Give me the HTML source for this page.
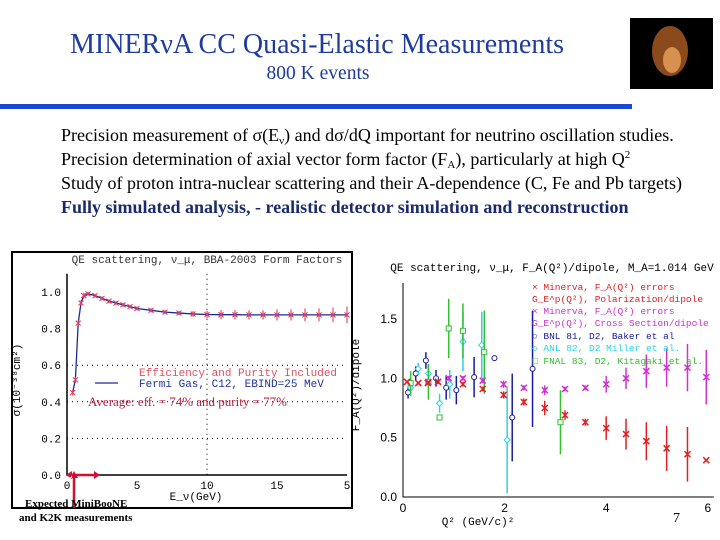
<!DOCTYPE html>
<html><head><meta charset="utf-8"><style>
html,body{margin:0;padding:0;background:#fff;}
svg{display:block;}
.serif{font-family:"Liberation Serif",serif;}
.mono{font-family:"Liberation Mono",monospace;}
</style></head><body>
<svg id="s" width="720" height="540" viewBox="0 0 720 540" xmlns="http://www.w3.org/2000/svg">
<text class="serif" x="317" y="53" font-size="28" fill="#1f3c9c" text-anchor="middle">MINERνA CC Quasi-Elastic Measurements</text>
<text class="serif" x="318" y="79" font-size="19.5" fill="#1f3c9c" text-anchor="middle">800 K events</text>
<g>
<rect x="630" y="18" width="83" height="71" fill="#000"/>
<ellipse cx="670" cy="51" rx="18" ry="25" fill="#8a4a1c"/>
<ellipse cx="672" cy="60" rx="9" ry="13" fill="#d89050"/>
</g>
<rect x="0" y="104" width="632" height="5" fill="#1a47cf"/>
<g class="serif" font-size="18" fill="#000">
<text x="61" y="141">Precision measurement of σ(E<tspan font-size="11" dy="3">ν</tspan><tspan dy="-3">) and dσ/dQ important for neutrino oscillation studies.</tspan></text>
<text x="61" y="165">Precision determination of axial vector form factor (F<tspan font-size="11" dy="3">A</tspan><tspan dy="-3">), particularly at high Q</tspan><tspan font-size="11" dy="-7">2</tspan></text>
<text x="61" y="189">Study of proton intra-nuclear scattering and their A-dependence (C, Fe and Pb targets)</text>
<text x="61" y="213" font-weight="bold" fill="#1a2a6c">Fully simulated analysis, - realistic detector simulation and reconstruction</text>
</g>
<g id="left">
<rect x="12" y="252" width="340" height="256" fill="#fff" stroke="#000" stroke-width="2"/>
<text class="mono" x="207" y="263" font-size="11" text-anchor="middle" fill="#333">QE scattering, ν_μ, BBA-2003 Form Factors</text>
<text class="mono" x="20" y="380" font-size="11" transform="rotate(-90 20 380)" text-anchor="middle">σ(10⁻³⁸cm²)</text>
<text class="mono" x="196" y="500" font-size="11" text-anchor="middle">E_ν(GeV)</text>
</g>
<g id="right">
<text class="mono" x="552" y="271" font-size="11" text-anchor="middle">QE scattering, ν_μ, F_A(Q²)/dipole, M_A=1.014 GeV</text>
<text class="mono" x="359" y="385" font-size="11" transform="rotate(-90 359 385)" text-anchor="middle">F_A(Q²)/dipole</text>
<text class="mono" x="478" y="525" font-size="11" text-anchor="middle">Q² (GeV/c)²</text>
</g>
<text class="serif" x="673" y="522" font-size="14">7</text>
<g>
<text class="serif" x="25" y="507" font-size="11" font-weight="bold">Expected MiniBooNE</text>
<text class="serif" x="19" y="521" font-size="11" font-weight="bold">and K2K measurements</text>
</g>
</svg>
<script>
var NS="http://www.w3.org/2000/svg";
var leftXTicks=[0,5,10,15,20];
var leftXTickLabels=["0","5","10","15","5"];
var leftYTicks=[0,0.2,0.4,0.6,0.8,1.0];
var leftYTickLabels=["0.0","0.2","0.4","0.6","0.8","1.0"];
var energy=[0.4,0.6,0.8,1.0,1.2,1.5,2,2.5,3,3.5,4,4.5,5,6,7,8,9,10,11,12,13,14,15,16,17,18,19,20];
var sigma=[0.45,0.52,0.83,0.94,0.98,0.99,0.98,0.965,0.95,0.94,0.93,0.92,0.91,0.90,0.89,0.885,0.88,0.877,0.876,0.876,0.875,0.875,0.875,0.875,0.875,0.875,0.875,0.875];
var sigmaErr=[0.01,0.01,0.01,0.01,0.01,0.005,0.005,0.005,0.005,0.005,0.005,0.005,0.005,0.005,0.005,0.005,0.01,0.015,0.02,0.02,0.02,0.02,0.025,0.025,0.03,0.03,0.035,0.04];
var rightXTicks=[0,2,4,6];
var rightYTicks=[0,0.5,1.0,1.5];
var rightYTickLabels=["0.0","0.5","1.0","1.5"];
var redQ=[0.08,0.3,0.49,0.69,1.18,1.57,1.98,2.38,2.79,3.19,3.59,4.0,4.39,4.79,5.19,5.6,5.97];
var redV=[0.97,0.96,0.96,0.97,0.95,0.91,0.86,0.80,0.75,0.69,0.63,0.58,0.53,0.47,0.41,0.36,0.31];
var redE=[0.01,0.01,0.01,0.02,0.02,0.02,0.03,0.03,0.06,0.04,0.03,0.1,0.13,0.16,0.19,0.23,0.01];
var magQ=[0.08,0.3,0.5,0.69,0.9,1.18,1.57,1.98,2.38,2.79,3.19,3.59,4.0,4.39,4.79,5.19,5.6,5.97];
var magV=[0.97,0.96,0.97,0.97,1.0,1.0,0.98,0.95,0.92,0.90,0.91,0.92,0.95,1.0,1.06,1.09,1.09,1.01];
var magE=[0.01,0.01,0.01,0.01,0.02,0.02,0.02,0.03,0.02,0.04,0.02,0.02,0.07,0.09,0.14,0.16,0.2,0.23];
var bnlQ=[0.1,0.25,0.45,0.65,0.85,1.05,1.4,1.8,2.15,2.55];
var bnlV=[0.88,1.04,1.15,1.0,0.92,0.9,1.01,1.17,0.67,1.08];
var bnlE=[0.05,0.06,0.07,0.07,0.1,0.12,0.17,0.0,0.37,0.49];
var anlQ=[0.15,0.3,0.5,0.72,0.92,1.18,1.55,2.05];
var anlV=[0.92,1.08,1.04,0.79,0.95,1.31,1.28,0.48];
var anlE=[0.07,0.05,0.08,0.08,0.12,0.25,0.28,0.45];
var fnalQ=[0.15,0.5,0.72,0.9,1.18,1.6,3.1];
var fnalV=[0.96,0.97,0.67,1.42,1.4,1.22,0.63];
var fnalE=[0.1,0.15,0.0,0.25,0.23,0.35,0.27];

var L=document.getElementById('left'), R=document.getElementById('right');
function mk(par,tag,at){var e=document.createElementNS(NS,tag);for(var k in at)e.setAttribute(k,at[k]);par.appendChild(e);return e;}
function lx(v){return 67+v*14;} function ly(v){return 475-v*183;}
var ax=mk(L,'path',{d:'M'+lx(0)+' '+ly(1.1)+'V'+ly(0)+'H'+lx(20),stroke:'#000','stroke-width':1.5,fill:'none'});


for(var i=0;i<leftYTicks.length;i++){var v=leftYTicks[i];
 var t=mk(L,'text',{x:lx(0)-6,y:ly(v)+4,'font-size':11,'text-anchor':'end','font-family':'Liberation Mono,monospace'});t.textContent=leftYTickLabels[i];
 
 
 if(v>0&&v<0.7){var g=mk(L,'line',{x1:lx(0),x2:lx(20),y1:ly(v),y2:ly(v),stroke:'#000','stroke-dasharray':'1 4'});
 
 }
}
for(var i=0;i<leftXTicks.length;i++){var v=leftXTicks[i];
 var t=mk(L,'text',{x:lx(v),y:ly(0)+14,'font-size':11,'text-anchor':'middle','font-family':'Liberation Mono,monospace'});t.textContent=leftXTickLabels[i];
 
 }
var vg=mk(L,'line',{x1:lx(10),x2:lx(10),y1:ly(1.1),y2:ly(0),stroke:'#000','stroke-dasharray':'1 4'});


var d='';for(var i=0;i<energy.length;i++)d+=(i?'L':'M')+lx(energy[i])+' '+ly(sigma[i]);
var cl=mk(L,'path',{d:d,stroke:'#1a2a9a','stroke-width':1.3,fill:'none'});


for(var i=0;i<energy.length;i++){var x=lx(energy[i]),y=ly(sigma[i]);
 var m=mk(L,'path',{d:'M'+(x-2.5)+' '+(y-2.5)+'l5 5M'+(x+2.5)+' '+(y-2.5)+'l-5 5M'+x+' '+(ly(sigma[i]+sigmaErr[i])-1)+'V'+(ly(sigma[i]-sigmaErr[i])+1),stroke:'#e0405a','stroke-width':1.1});
 
 }
var lt1=mk(L,'text',{x:139,y:376,'font-size':11,fill:'#e05060','font-family':'Liberation Mono,monospace'});lt1.textContent='Efficiency and Purity Included';


var ll=mk(L,'line',{x1:95,x2:118,y1:383,y2:383,stroke:'#1a2a9a','stroke-width':1.3});


var lt2=mk(L,'text',{x:139,y:387,'font-size':11,fill:'#2030a0','font-family':'Liberation Mono,monospace'});lt2.textContent='Fermi Gas, C12, EBIND=25 MeV';


var lt3=mk(L,'text',{x:88,y:406,'font-size':13,fill:'#b02040','font-family':'Liberation Serif,serif'});lt3.textContent='Average: eff. = 74% and purity = 77%';


var ar=mk(L,'path',{d:'M69 475H97M74 476V508',stroke:'#d01030','stroke-width':2.5,fill:'none'});


var ah=mk(L,'path',{d:'M66 475l6-4v8zM100 475l-6-4v8zM74 471l-4 7h8z',fill:'#d01030'});


function rx(v){return 403+v*50.8;} function ry(v){return 497-v*118.7;}
var rax=mk(R,'path',{d:'M'+rx(0)+' 283V'+ry(0)+'H'+(rx(6)+6),stroke:'#000','stroke-width':1,fill:'none'});


for(var i=0;i<rightYTicks.length;i++){var t=mk(R,'text',{x:rx(0)-6,y:ry(rightYTicks[i])+4,'font-size':12,'text-anchor':'end','font-family':'Liberation Sans,sans-serif'});t.textContent=rightYTickLabels[i];
 
 }
for(var i=0;i<rightXTicks.length;i++){var t=mk(R,'text',{x:rx(rightXTicks[i]),y:ry(0)+15,'font-size':12,'text-anchor':'middle','font-family':'Liberation Sans,sans-serif'});t.textContent=String(rightXTicks[i]);
 
 }
function series(q,v,e,col,shape,name){
 for(var i=0;i<q.length;i++){var x=rx(q[i]),y=ry(v[i]);
  var b=mk(R,'line',{x1:x,x2:x,y1:ry(v[i]+e[i]),y2:ry(v[i]-e[i]),stroke:col,'stroke-width':1.5});
  
  
  var m;
  if(shape=='x')m=mk(R,'path',{d:'M'+(x-3)+' '+(y-3)+'l6 6M'+(x+3)+' '+(y-3)+'l-6 6',stroke:col,'stroke-width':1.5});
  else if(shape=='o')m=mk(R,'circle',{cx:x,cy:y,r:2.5,fill:'#fff',stroke:col});
  else if(shape=='d')m=mk(R,'path',{d:'M'+x+' '+(y-3)+'l3 3l-3 3l-3-3z',fill:'#fff',stroke:col});
  else m=mk(R,'rect',{x:x-2.5,y:y-2.5,width:5,height:5,fill:'#fff',stroke:col});
  
  }
}
series(bnlQ,bnlV,bnlE,'#1a1aa0','o','bnl');
series(anlQ,anlV,anlE,'#30d0e0','d','anl');
series(fnalQ,fnalV,fnalE,'#30c030','s','fnal');
series(magQ,magV,magE,'#d030d0','x','minerva-cross-section');
series(redQ,redV,redE,'#e02020','x','minerva-polarization');
var leg=[['× Minerva, F_A(Q²) errors','#e02020',290],['  G_E^p(Q²), Polarization/dipole','#e02020',302],['× Minerva, F_A(Q²) errors','#d030d0',314],['  G_E^p(Q²), Cross Section/dipole','#d030d0',326],['○ BNL 81, D2, Baker et al','#1a1aa0',339],['◇ ANL 82, D2 Miller et al.','#30d0e0',351],['□ FNAL 83, D2, Kitagaki et al.','#30c030',364]];
for(var i=0;i<leg.length;i++){var t=mk(R,'text',{x:532,y:leg[i][2],'font-size':9.5,fill:leg[i][1],'font-family':'Liberation Mono,monospace','xml:space':'preserve'});t.textContent=leg[i][0];
 
 }
</script>
</body></html>
